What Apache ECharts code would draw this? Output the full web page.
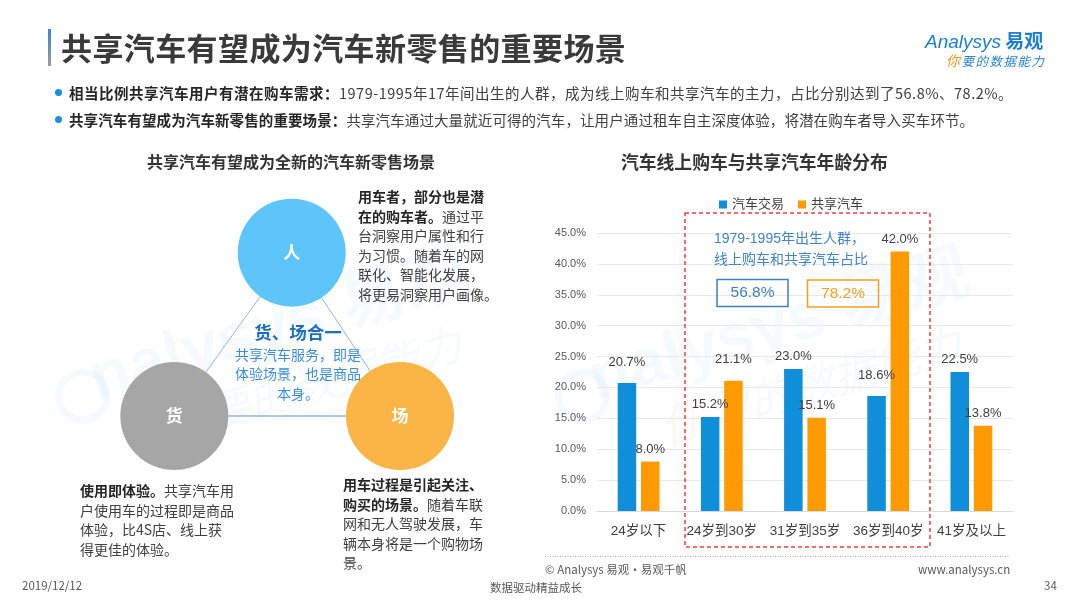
<!DOCTYPE html>
<html>
<head>
<meta charset="utf-8">
<script src="https://cdn.jsdelivr.net/npm/echarts@6/dist/echarts.min.js"></script>
<style>
  html, body { margin: 0; padding: 0; background: #fff; }
  body { width: 1080px; height: 608px; position: relative; overflow: hidden;
         font-family: "Noto Sans CJK SC", "Liberation Sans", sans-serif; color: #333; }
  #main { position: absolute; left: 0; top: 0; width: 1080px; height: 608px; }
  .t { position: absolute; white-space: nowrap; }
  .p { font-size: 14px; line-height: 19.5px; color: #404040; }
  .p b { color: #262626; }
  .foot { font-size: 11.5px; color: #595959; }
</style>
</head>
<body>
<div id="main"></div>

<div class="t" style="left:48px;top:29px;width:3px;height:37px;background:linear-gradient(#3a86d0,#9a9a9a);"></div>
<div class="t" style="left:61px;top:27px;font-size:31px;font-weight:bold;letter-spacing:0.4px;color:#3a3a3a;line-height:40px;">共享汽车有望成为汽车新零售的重要场景</div>

<div class="t" style="left:925px;top:29px;font-size:19px;font-weight:bold;color:#1a7fd4;line-height:22px;"><span style="font-weight:normal;font-family:'Liberation Sans';font-style:italic;">Analysys</span> 易观</div>
<div class="t" style="left:946px;top:52px;font-size:12.5px;color:#2a86d6;font-style:italic;letter-spacing:1.5px;line-height:16px;"><span style="color:#f39a1e;font-size:14px;">你</span>要的数据能力</div>

<div class="t" style="left:55px;top:89px;width:7px;height:7px;border-radius:50%;background:#1a8fdc;"></div>
<div class="t p" style="left:69px;top:83px;font-size:14.5px;letter-spacing:0.5px;"><b>相当比例共享汽车用户有潜在购车需求：</b>1979-1995年17年间出生的人群，成为线上购车和共享汽车的主力，占比分别达到了56.8%、78.2%。</div>
<div class="t" style="left:55px;top:116px;width:7px;height:7px;border-radius:50%;background:#1a8fdc;"></div>
<div class="t p" style="left:69px;top:110px;font-size:14.5px;letter-spacing:0.1px;"><b>共享汽车有望成为汽车新零售的重要场景：</b>共享汽车通过大量就近可得的汽车，让用户通过租车自主深度体验，将潜在购车者导入买车环节。</div>

<div class="t" style="left:147px;top:150px;font-size:16px;font-weight:bold;color:#333;line-height:22px;">共享汽车有望成为全新的汽车新零售场景</div>
<div class="t" style="left:621px;top:150px;font-size:17.8px;font-weight:bold;color:#333;line-height:22px;">汽车线上购车与共享汽车年龄分布</div>

<div class="t p" style="left:358px;top:187px;"><b>用车者，部分也是潜<br>在的购车者。</b>通过平<br>台洞察用户属性和行<br>为习惯。随着车的网<br>联化、智能化发展，<br>将更易洞察用户画像。</div>
<div class="t" style="left:198px;top:320px;width:200px;text-align:center;font-size:17.5px;font-weight:bold;color:#1f6fc0;line-height:24px;">货、场合一</div>
<div class="t" style="left:198px;top:345px;width:200px;text-align:center;font-size:14px;color:#3a8ee0;line-height:19.3px;">共享汽车服务，即是<br>体验场景，也是商品<br>本身。</div>
<div class="t p" style="left:80px;top:481px;"><b>使用即体验。</b>共享汽车用<br>户使用车的过程即是商品<br>体验，比4S店、线上获<br>得更佳的体验。</div>
<div class="t p" style="left:343px;top:475px;"><b>用车过程是引起关注、<br>购买的场景。</b>随着车联<br>网和无人驾驶发展，车<br>辆本身将是一个购物场<br>景。</div>

<div class="t foot" style="left:545px;top:561px;">© Analysys 易观·易观千帆</div>
<div class="t foot" style="left:918px;top:561px;">www.analysys.cn</div>
<div class="t foot" style="left:22px;top:577px;">2019/12/12</div>
<div class="t foot" style="left:490px;top:579px;">数据驱动精益成长</div>
<div class="t foot" style="left:1044px;top:577px;">34</div>

<script>
// 年龄段
var ageGroups = ['24岁以下', '24岁到30岁', '31岁到35岁', '36岁到40岁', '41岁及以上'];
var seriesNames = ['汽车交易', '共享汽车'];
// 占比 (%)
var carTrade = [20.7, 15.2, 23.0, 18.6, 22.5];
var carShare = [8.0, 21.1, 15.1, 42.0, 13.8];
var shareOf7995 = ['56.8%', '78.2%'];

var BLUE = '#0f8fd9', ORANGE = '#ff9a00';
var FONT = '"Liberation Sans", "Noto Sans CJK SC", sans-serif';

// 原图中这几个标签抬得更高一点
var raised = { '0-0': 14, '1-1': 15, '0-3': 14 };

function barData(values, si) {
    return values.map(function (v, i) {
        var d = raised[si + '-' + i];
        return d ? { value: v, label: { distance: d } } : v;
    });
}

function bubble(cx, cy, r, color, label) {
    return [
        { type: 'circle', z: 5, shape: { cx: cx, cy: cy, r: r }, style: { fill: color } },
        { type: 'text', z: 6, x: cx, y: cy,
          style: { text: label, fill: '#ffffff', font: 'bold 17px "Noto Sans CJK SC"', align: 'center', verticalAlign: 'middle' } }
    ];
}
function link(x1, y1, x2, y2, color) {
    return { type: 'line', z: 3, shape: { x1: x1, y1: y1, x2: x2, y2: y2 }, style: { stroke: color, lineWidth: 1 } };
}
function watermark(x, y) {
    var blue = 'rgba(90,165,230,0.06)';
    return {
        type: 'group', x: x, y: y, rotation: 0.28, silent: true,
        children: [
            { type: 'circle', z: 0, shape: { cx: 28, cy: -22, r: 24 }, style: { fill: 'none', stroke: blue, lineWidth: 7 } },
            { type: 'text', z: 0, x: 40, y: 0, style: { text: 'nalysys 易观', font: 'bold 66px "Liberation Sans", "Noto Sans CJK SC"', fill: blue, verticalAlign: 'bottom' } },
            { type: 'text', z: 0, x: 95, y: 8, style: { text: '你', font: 'italic 44px "Noto Sans CJK SC"', fill: 'rgba(245,160,40,0.07)', verticalAlign: 'top' } },
            { type: 'text', z: 0, x: 142, y: 8, style: { text: '要的数据能力', font: 'italic 44px "Noto Sans CJK SC"', fill: blue, verticalAlign: 'top' } }
        ]
    };
}

var myChart = echarts.init(document.getElementById('main'));

var labelStyle = {
    show: true, position: 'top', distance: 6, fontSize: 13, color: '#404040',
    formatter: function (p) { return p.value.toFixed(1) + '%'; }
};

var graphics = [watermark(62, 425), watermark(562, 425)];
graphics.push(
    link(291.7, 252.7, 174.3, 416, '#8cb6df'),
    link(291.7, 252.7, 400, 416, '#8cb6df'),
    link(174.3, 416, 400, 416, '#5b93cf')
);
graphics = graphics.concat(
    bubble(291.7, 252.7, 54, '#5ec5f8', '人'),
    bubble(174.3, 416, 54, '#a6a6a6', '货'),
    bubble(400, 416, 54, '#fbb547', '场')
);
graphics.push(
    // 红色虚线框
    { type: 'rect', z: 1, shape: { x: 685, y: 213, width: 245, height: 334 },
      style: { fill: 'none', stroke: '#e8413f', lineWidth: 1.5, lineDash: [4, 3] } },
    { type: 'text', x: 714, y: 239, z: 4,
      style: { text: '1979-1995年出生人群，', font: '14px "Liberation Sans", "Noto Sans CJK SC"', fill: '#3f84cc', verticalAlign: 'middle' } },
    { type: 'text', x: 714, y: 259, z: 4,
      style: { text: '线上购车和共享汽车占比', font: '14px "Noto Sans CJK SC"', fill: '#3f84cc', verticalAlign: 'middle' } },
    { type: 'rect', z: 4, shape: { x: 717, y: 279.5, width: 71, height: 27 },
      style: { fill: 'none', stroke: '#3f7fc6', lineWidth: 1.5 } },
    { type: 'text', x: 752.5, y: 293, z: 4,
      style: { text: shareOf7995[0], font: '15.5px "Liberation Sans"', fill: '#3f7fc6', align: 'center', verticalAlign: 'middle' } },
    { type: 'rect', z: 4, shape: { x: 807.5, y: 280, width: 71, height: 27 },
      style: { fill: 'none', stroke: '#f5a020', lineWidth: 1.5 } },
    { type: 'text', x: 843, y: 293.5, z: 4,
      style: { text: shareOf7995[1], font: '15.5px "Liberation Sans"', fill: '#f5a020', align: 'center', verticalAlign: 'middle' } },
    // 底部点线
    { type: 'line', z: 1, shape: { x1: 545, y1: 556.5, x2: 1010, y2: 556.5 },
      style: { stroke: '#a6a6a6', lineWidth: 1, lineDash: [1, 1.5] } }
);

var option = {
    animation: false,
    textStyle: { fontFamily: FONT },
    legend: {
        data: seriesNames,
        left: 714, top: 193,
        icon: 'rect', itemWidth: 8, itemHeight: 8, itemGap: 14,
        textStyle: { fontSize: 13, color: '#404040', fontFamily: FONT }
    },
    grid: { left: 597, right: 67, top: 233, bottom: 97 },
    xAxis: {
        type: 'category',
        data: ageGroups,
        axisLine: { lineStyle: { color: '#d9d9d9' } },
        axisTick: { show: false },
        axisLabel: { interval: 0, fontSize: 13.5, color: '#404040', margin: 14 }
    },
    yAxis: {
        type: 'value', min: 0, max: 45, interval: 5,
        axisLabel: {
            fontSize: 11, color: '#595959', margin: 11,
            formatter: function (v) { return v.toFixed(1) + '%'; }
        },
        splitLine: { lineStyle: { color: '#e8e8e8' } }
    },
    series: [
        {
            name: seriesNames[0], type: 'bar', data: barData(carTrade, 0),
            barWidth: 18.5, barGap: '26%',
            itemStyle: { color: BLUE },
            label: labelStyle
        },
        {
            name: seriesNames[1], type: 'bar', data: barData(carShare, 1),
            barWidth: 18.5,
            itemStyle: { color: ORANGE },
            label: labelStyle
        }
    ],
    graphic: graphics
};
myChart.setOption(option);
</script>
</body>
</html>
